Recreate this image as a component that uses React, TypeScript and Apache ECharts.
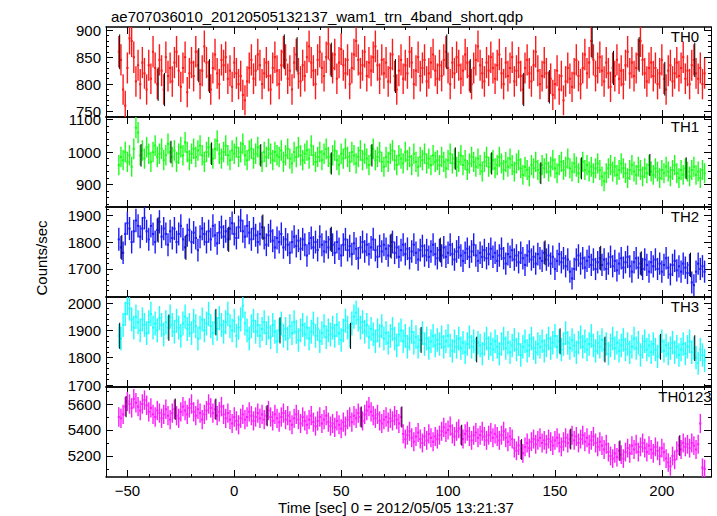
import React, { useEffect, useRef } from "react";
import * as echarts from "echarts";

const TITLE = "ae707036010_20120505132137_wam1_trn_4band_short.qdp";
const X_TITLE = "Time [sec] 0 = 2012/05/05 13:21:37";
const Y_TITLE = "Counts/sec";
const T_START = -54; // first 1-s bin centre
const X_MIN = -60;
const X_MAX = 223;
const X_MAJOR = [-50, 0, 50, 100, 150, 200];

const th0 = [
  860, 845, 790, 760, 830, 885, 880, 850, 805, 835, 800, 840, 820, 790, 835, 810, 860, 830, 800, 845, 825, 790, 850, 815, 830,
  805, 840, 860, 825, 795, 830, 850, 785, 820, 840, 815, 860, 835, 800, 825, 870, 840, 815, 790, 830, 855, 820, 800, 845, 835,
  850, 810, 825, 795, 840, 820, 800, 815, 780, 770, 805, 830, 845, 810, 825, 855, 835, 800, 820, 840, 815, 790, 830, 850, 825,
  800, 835, 860, 845, 810, 825, 790, 840, 855, 820, 805, 835, 815, 850, 870, 840, 825, 800, 845, 860, 830, 815, 850, 875, 845,
  830, 855, 810, 840, 865, 835, 820, 845, 800, 830, 855, 880, 845, 820, 835, 860, 815, 840, 825, 850, 870, 835, 810, 845, 820,
  840, 805, 830, 855, 815, 790, 825, 845, 810, 835, 820, 860, 840, 800, 825, 850, 815, 830, 845, 805, 820, 840, 855, 825, 810,
  835, 815, 845, 860, 830, 800, 840, 820, 850, 835, 810, 825, 855, 840, 815, 800, 830, 845, 870, 835, 820, 805, 840, 825, 850,
  830, 810, 835, 855, 820, 800, 840, 815, 830, 850, 805, 825, 840, 815, 790, 830, 845, 820, 805, 835, 860, 825, 800, 815, 840,
  820, 795, 810, 780, 800, 825, 790, 815, 770, 805, 830, 810, 795, 820, 845, 815, 800, 830, 855, 820, 840, 880, 845, 815, 830,
  850, 825, 805, 840, 820, 795, 830, 815, 845, 810, 825, 800, 835, 860, 820, 840, 815, 830, 855, 880, 845, 820, 805, 830, 840,
  815, 830, 800, 820, 845, 810, 790, 825, 835, 805, 820, 840, 815, 830, 850, 810, 825, 800, 835, 845, 820, 810, 830, 800, 820,
];

const th1 = [
  960, 985, 975, 1000, 970, 990, 955, 1010, 1075, 1060, 990, 1005, 980, 1015, 995, 970, 1000, 1020, 985, 995, 1010, 975, 990, 1025, 1000,
  985, 1005, 970, 995, 1015, 990, 1030, 1000, 975, 995, 1010, 985, 1005, 1020, 990, 970, 1000, 1015, 995, 980, 1010, 1035, 995, 980, 1000,
  1020, 990, 975, 1005, 995, 1015, 985, 1000, 1025, 990, 975, 1005, 1010, 980, 995, 1015, 990, 970, 1000, 985, 1010, 995, 975, 1000, 990,
  985, 1005, 970, 990, 1010, 980, 965, 1000, 985, 1015, 990, 975, 995, 1005, 980, 1020, 990, 970, 985, 1000, 975, 995, 1010, 985, 965,
  990, 1005, 975, 960, 995, 980, 1010, 985, 970, 1000, 990, 965, 985, 1005, 975, 995, 980, 960, 990, 1010, 975, 985, 1000, 970, 955,
  985, 970, 995, 1005, 975, 960, 990, 980, 965, 1000, 975, 985, 960, 995, 970, 955, 985, 975, 995, 965, 980, 960, 990, 970, 975,
  960, 985, 970, 950, 975, 995, 965, 980, 955, 970, 990, 960, 975, 945, 965, 985, 970, 955, 980, 960, 940, 970, 985, 955, 965,
  975, 950, 960, 985, 965, 945, 970, 955, 980, 960, 940, 965, 975, 950, 930, 955, 945, 925, 960, 950, 970, 945, 935, 960, 950,
  965, 940, 955, 975, 950, 935, 960, 970, 945, 955, 980, 950, 940, 965, 955, 935, 950, 970, 945, 960, 940, 955, 935, 950, 965,
  945, 925, 910, 935, 950, 960, 940, 955, 930, 945, 965, 950, 935, 920, 945, 960, 940, 930, 955, 945, 925, 950, 935, 960, 940,
  930, 950, 940, 920, 945, 935, 955, 940, 925, 945, 960, 935, 920, 945, 930, 950, 940, 925, 945, 955, 930, 940, 920, 945, 935,
];

const th2 = [
  1810, 1780, 1760, 1830, 1870, 1850, 1800, 1840, 1880, 1860, 1820, 1850, 1890, 1840, 1810, 1860, 1830, 1800, 1845, 1875, 1820, 1850, 1830, 1790, 1840,
  1815, 1850, 1800, 1830, 1860, 1810, 1780, 1825, 1845, 1800, 1835, 1815, 1770, 1820, 1850, 1830, 1800, 1840, 1810, 1860, 1825, 1795, 1835, 1855, 1820,
  1840, 1810, 1850, 1870, 1830, 1815, 1855, 1880, 1840, 1820, 1860, 1835, 1810, 1850, 1825, 1800, 1830, 1855, 1815, 1790, 1825, 1840, 1805, 1780, 1815,
  1800, 1830, 1780, 1810, 1790, 1760, 1800, 1820, 1785, 1805, 1775, 1810, 1790, 1750, 1795, 1815, 1780, 1800, 1770, 1820, 1790, 1765, 1800, 1780, 1810,
  1790, 1760, 1800, 1775, 1750, 1790, 1810, 1770, 1785, 1755, 1795, 1775, 1740, 1780, 1800, 1765, 1790, 1755, 1780, 1810, 1770, 1745, 1785, 1765, 1790,
  1775, 1750, 1785, 1800, 1760, 1780, 1745, 1770, 1790, 1755, 1775, 1740, 1765, 1790, 1760, 1735, 1770, 1785, 1750, 1770, 1745, 1765, 1790, 1755, 1740,
  1770, 1750, 1780, 1745, 1760, 1790, 1755, 1735, 1765, 1780, 1750, 1730, 1760, 1775, 1745, 1765, 1790, 1750, 1730, 1760, 1745, 1770, 1740, 1755, 1775,
  1745, 1760, 1730, 1750, 1775, 1740, 1720, 1755, 1745, 1770, 1735, 1750, 1725, 1760, 1740, 1715, 1750, 1765, 1735, 1745, 1720, 1755, 1740, 1730, 1760,
  1735, 1750, 1720, 1745, 1700, 1730, 1755, 1725, 1740, 1710, 1735, 1690, 1665, 1700, 1735, 1750, 1720, 1740, 1705, 1730, 1745, 1715, 1735, 1700, 1725,
  1740, 1715, 1735, 1700, 1720, 1745, 1710, 1730, 1695, 1720, 1740, 1705, 1725, 1745, 1710, 1690, 1725, 1740, 1705, 1720, 1700, 1735, 1715, 1690, 1725,
  1710, 1735, 1700, 1720, 1690, 1715, 1740, 1705, 1680, 1715, 1730, 1695, 1710, 1690, 1720, 1705, 1685, 1715, 1650, 1640, 1690, 1720, 1700, 1710, 1690,
];

const th3 = [
  1880, 1870, 1920, 1960, 2000, 1980, 1940, 1910, 1950, 1930, 1900, 1940, 1920, 1890, 1930, 1960, 1910, 1925, 1900, 1945, 1920, 1885, 1930, 1910, 1950,
  1920, 1895, 1935, 1910, 1880, 1925, 1950, 1905, 1920, 1890, 1935, 1915, 1870, 1910, 1940, 1900, 1925, 1960, 1915, 1890, 1930, 1905, 1945, 1920, 1895,
  1930, 1960, 1915, 1900, 1935, 1880, 1910, 1940, 1990, 1925, 1900, 1870, 1915, 1935, 1895, 1920, 1880, 1905, 1930, 1890, 1910, 1875, 1920, 1895, 1860,
  1900, 1925, 1880, 1905, 1870, 1915, 1890, 1930, 1895, 1865, 1900, 1920, 1885, 1910, 1870, 1895, 1925, 1880, 1905, 1860, 1890, 1915, 1875, 1900, 1885,
  1910, 1880, 1920, 1890, 1865, 1900, 1935, 1910, 1880, 1925, 1950, 1965, 1940, 1910, 1930, 1895, 1920, 1875, 1905, 1885, 1860, 1900, 1880, 1915, 1870,
  1890, 1855, 1880, 1905, 1870, 1845, 1885, 1900, 1860, 1880, 1840, 1870, 1895, 1855, 1875, 1840, 1865, 1890, 1850, 1870, 1835, 1860, 1880, 1845, 1865,
  1850, 1875, 1840, 1860, 1880, 1845, 1825, 1860, 1840, 1870, 1835, 1855, 1820, 1850, 1875, 1840, 1860, 1830, 1855, 1845, 1815, 1850, 1870, 1835, 1850,
  1830, 1860, 1840, 1815, 1850, 1870, 1835, 1855, 1820, 1845, 1865, 1830, 1850, 1810, 1840, 1860, 1825, 1845, 1870, 1835, 1820, 1850, 1840, 1860, 1825,
  1845, 1870, 1835, 1855, 1880, 1840, 1860, 1830, 1850, 1890, 1855, 1835, 1865, 1845, 1820, 1855, 1875, 1840, 1860, 1830, 1850, 1880, 1845, 1825, 1855,
  1840, 1865, 1830, 1850, 1815, 1845, 1870, 1835, 1855, 1825, 1845, 1865, 1830, 1850, 1820, 1840, 1870, 1835, 1855, 1810, 1840, 1860, 1830, 1845, 1820,
  1850, 1830, 1805, 1840, 1860, 1825, 1845, 1815, 1835, 1855, 1820, 1840, 1810, 1830, 1850, 1815, 1840, 1860, 1820, 1835, 1800, 1780, 1830, 1810, 1790,
];

const th0123 = [
  5500, 5490, 5520, 5580, 5620, 5600, 5570, 5640, 5610, 5580, 5550, 5600, 5630, 5590, 5540, 5570, 5520, 5500, 5550, 5530, 5490, 5520, 5560, 5510, 5480,
  5530, 5560, 5510, 5490, 5540, 5580, 5550, 5520, 5570, 5600, 5540, 5510, 5560, 5530, 5480, 5520, 5550, 5600, 5570, 5530, 5560, 5510, 5540, 5580, 5520,
  5490, 5530, 5480, 5450, 5500, 5470, 5440, 5490, 5520, 5480, 5500, 5540, 5510, 5470, 5500, 5530, 5490, 5520, 5480, 5510, 5550, 5500, 5470, 5520, 5490,
  5460, 5500, 5530, 5480, 5510, 5470, 5440, 5490, 5520, 5480, 5450, 5500, 5470, 5440, 5480, 5510, 5460, 5430, 5470, 5500, 5450, 5480, 5510, 5460, 5430,
  5450, 5420, 5470, 5440, 5410, 5460, 5430, 5480, 5500, 5460, 5510, 5490, 5530, 5500, 5470, 5520, 5550, 5580, 5540, 5510, 5490, 5520, 5470, 5450, 5480,
  5500, 5460, 5490, 5470, 5510, 5480, 5450, 5500, 5370, 5330, 5360, 5390, 5340, 5310, 5350, 5380, 5330, 5300, 5350, 5320, 5370, 5340, 5310, 5350, 5330,
  5360, 5390, 5420, 5380, 5400, 5430, 5370, 5350, 5390, 5410, 5360, 5330, 5370, 5390, 5350, 5320, 5360, 5380, 5340, 5360, 5390, 5350, 5320, 5360, 5380,
  5340, 5370, 5350, 5320, 5360, 5390, 5340, 5310, 5350, 5330, 5260, 5240, 5280, 5250, 5220, 5270, 5300, 5260, 5310, 5330, 5290, 5320, 5340, 5300, 5320,
  5290, 5330, 5310, 5280, 5320, 5340, 5300, 5270, 5310, 5340, 5300, 5330, 5360, 5320, 5350, 5300, 5330, 5360, 5310, 5340, 5290, 5320, 5350, 5300, 5270,
  5310, 5280, 5250, 5290, 5230, 5200, 5180, 5220, 5190, 5240, 5210, 5180, 5230, 5260, 5220, 5280, 5250, 5290, 5230, 5270, 5300, 5260, 5230, 5280, 5250,
  5220, 5270, 5240, 5200, 5260, 5230, 5180, 5150, 5120, 5200, 5170, 5240, 5280, 5250, 5300, 5270, 5290, 5260, 5300, 5280, 5250, 5290, 5450, 5110, 5100,
];

// bins whose error bars appear in black
const black0 = [-54, -36, -33, -17, -12, 23, 29, 45, 75, 99, 110, 135, 147, 167, 177, 189, 201, 215];
const black1 = [-44, -30, -11, 12, 45, 64, 103, 120, 143, 162, 194, 211];
const black2 = [-53, -36, -23, -3, 13, 45, 73, 96, 145, 171, 190, 213];
const black3 = [-54, -31, -9, 21, 54, 87, 113, 152, 173, 199, 215];
const black4 = [-51, -28, -9, 15, 59, 78, 106, 134, 157, 180, 208];

const names = ["TH0", "TH1", "TH2", "TH3", "TH0123"];
const colors = ["#ff1a1a", "#1aff1a", "#1a1aff", "#1affff", "#ff1aff"];
const yMins = [739, 831, 1596, 1693, 5038];
const yMaxs = [906, 1108, 1930, 2022, 5731];
const yMajors = [
  [750, 800, 850, 900],
  [900, 1000, 1100],
  [1700, 1800, 1900],
  [1700, 1800, 1900, 2000],
  [5200, 5400, 5600],
];
const yMinorSteps = [10, 20, 20, 20, 100];

const FONT = "Liberation Sans, Arial, Helvetica, sans-serif";
const GRID_TOP = 27;
const PANEL_H = 90;
const GRID_LEFT = 106;
const GRID_RIGHT = 6;

function stepValues(min: number, max: number, step: number) {
  const out: number[] = [];
  for (let v = Math.ceil(min / step) * step; v <= max; v += step) out.push(v);
  return out;
}

export default function App() {
  const ref = useRef<HTMLDivElement>(null);
  useEffect(() => {
    if (!ref.current) return;
    const chart = echarts.init(ref.current, undefined, { renderer: "svg" });
    const series = [th0, th1, th2, th3, th0123];
    const blacks = [black0, black1, black2, black3, black4];

    const grids: any[] = [];
    const xAxes: any[] = [];
    const yAxes: any[] = [];
    const seriesOpts: any[] = [];
    const graphics: any[] = [];
    const xMinor = stepValues(X_MIN, X_MAX, 10);

    for (let i = 0; i < 5; i++) {
      grids.push({
        left: GRID_LEFT,
        right: GRID_RIGHT,
        top: GRID_TOP + PANEL_H * i,
        height: PANEL_H,
        containLabel: false,
        outerBoundsMode: "none",
      });
      const baseX = {
        type: "value",
        gridIndex: i,
        min: X_MIN,
        max: X_MAX,
        splitLine: { show: false },
      };
      const xLine = { show: true, onZero: false, lineStyle: { color: "#000", width: 1.5 } };
      const yLine = { show: true, onZero: false, lineStyle: { color: "#000", width: 1 } };
      const noLine = { show: false, onZero: false };
      xAxes.push({
        ...baseX,
        position: "bottom",
        axisLine: xLine,
        axisTick: { show: true, inside: true, length: 7, customValues: X_MAJOR, lineStyle: { color: "#000" } },
        axisLabel: {
          show: i === 4,
          customValues: X_MAJOR,
          fontSize: 15,
          color: "#000",
          fontFamily: FONT,
          margin: 6,
          formatter: (v: number) => (v < 0 ? "\u2212" + Math.abs(v) : String(v)),
        },
      });
      xAxes.push({
        ...baseX,
        position: "top",
        axisLine: xLine,
        axisTick: { show: true, inside: true, length: 7, customValues: X_MAJOR, lineStyle: { color: "#000" } },
        axisLabel: { show: false },
      });
      xAxes.push({
        ...baseX,
        position: "bottom",
        axisLine: noLine,
        axisTick: { show: true, inside: true, length: 3, customValues: xMinor, lineStyle: { color: "#000" } },
        axisLabel: { show: false },
      });
      xAxes.push({
        ...baseX,
        position: "top",
        axisLine: noLine,
        axisTick: { show: true, inside: true, length: 3, customValues: xMinor, lineStyle: { color: "#000" } },
        axisLabel: { show: false },
      });

      const baseY = {
        type: "value",
        gridIndex: i,
        min: yMins[i],
        max: yMaxs[i],
        splitLine: { show: false },
      };
      const yMinor = stepValues(yMins[i], yMaxs[i], yMinorSteps[i]);
      yAxes.push({
        ...baseY,
        position: "left",
        axisLine: yLine,
        axisTick: { show: true, inside: true, length: 7, customValues: yMajors[i], lineStyle: { color: "#000" } },
        axisLabel: {
          show: true,
          customValues: yMajors[i],
          fontSize: 15,
          color: "#000",
          fontFamily: FONT,
          margin: 5,
          formatter: (v: number) => String(v),
        },
      });
      yAxes.push({
        ...baseY,
        position: "right",
        axisLine: yLine,
        axisTick: { show: true, inside: true, length: 7, customValues: yMajors[i], lineStyle: { color: "#000" } },
        axisLabel: { show: false },
      });
      yAxes.push({
        ...baseY,
        position: "left",
        axisLine: noLine,
        axisTick: { show: true, inside: true, length: 3, customValues: yMinor, lineStyle: { color: "#000" } },
        axisLabel: { show: false },
      });
      yAxes.push({
        ...baseY,
        position: "right",
        axisLine: noLine,
        axisTick: { show: true, inside: true, length: 3, customValues: yMinor, lineStyle: { color: "#000" } },
        axisLabel: { show: false },
      });

      const vals = series[i];
      const data = vals.map((v, k) => [T_START + k, v]);
      const color = colors[i];
      const clampY = (y: number, cs: any) => Math.max(cs.y, Math.min(cs.y + cs.height, y));

      seriesOpts.push({
        type: "custom",
        xAxisIndex: i * 4,
        yAxisIndex: i * 4,
        data,
        silent: true,
        renderItem: (params: any, api: any) => {
          const cs = params.coordSys;
          const t = api.value(0);
          const v = api.value(1);
          const e = Math.sqrt(v);
          const a = api.coord([t - 0.5, v]);
          const b = api.coord([t + 0.5, v]);
          const c = api.coord([t, v + e]);
          const d = api.coord([t, v - e]);
          const children: any[] = [
            {
              type: "line",
              shape: { x1: c[0], y1: clampY(c[1], cs), x2: d[0], y2: clampY(d[1], cs) },
              style: { stroke: color, lineWidth: 1.4 },
            },
          ];
          if (a[1] >= cs.y && a[1] <= cs.y + cs.height) {
            children.push({
              type: "line",
              shape: { x1: a[0], y1: a[1], x2: b[0], y2: b[1] },
              style: { stroke: color, lineWidth: 2 },
            });
          }
          return { type: "group", children };
        },
      });

      const bData = blacks[i]
        .map((t) => [t, vals[t - T_START]])
        .filter((p) => p[1] !== undefined);
      seriesOpts.push({
        type: "custom",
        xAxisIndex: i * 4,
        yAxisIndex: i * 4,
        data: bData,
        silent: true,
        renderItem: (params: any, api: any) => {
          const cs = params.coordSys;
          const t = api.value(0);
          const v = api.value(1);
          const e = Math.sqrt(v) * 1.1;
          const c = api.coord([t + 0.4, v + e]);
          const d = api.coord([t + 0.4, v - e]);
          return {
            type: "line",
            shape: { x1: c[0], y1: clampY(c[1], cs), x2: d[0], y2: clampY(d[1], cs) },
            style: { stroke: "#000", lineWidth: 1 },
          };
        },
      });

      graphics.push({
        type: "text",
        x: 685,
        y: GRID_TOP + PANEL_H * i + 2,
        style: { text: names[i], fill: "#000", font: `15px ${FONT}`, align: "center", verticalAlign: "top" },
        z: 100,
      });
    }

    graphics.push({
      type: "text",
      x: 41,
      y: 258,
      rotation: Math.PI / 2,
      style: { text: Y_TITLE, fill: "#000", font: `15px ${FONT}`, align: "center", verticalAlign: "middle" },
    });
    graphics.push({
      type: "text",
      x: 396,
      y: 507,
      style: { text: X_TITLE, fill: "#000", font: `15px ${FONT}`, align: "center", verticalAlign: "middle" },
    });

    chart.setOption({
      animation: false,
      backgroundColor: "#fff",
      title: {
        text: TITLE,
        left: 106,
        top: 4,
        textStyle: { fontSize: 15, fontWeight: "normal", color: "#000", fontFamily: FONT },
      },
      grid: grids,
      xAxis: xAxes,
      yAxis: yAxes,
      series: seriesOpts,
      graphic: graphics,
    });
    return () => chart.dispose();
  }, []);
  return (
    <div
      ref={ref}
      style={{ position: "fixed", left: 0, top: 0, width: 717, height: 516, background: "#fff" }}
    />
  );
}
